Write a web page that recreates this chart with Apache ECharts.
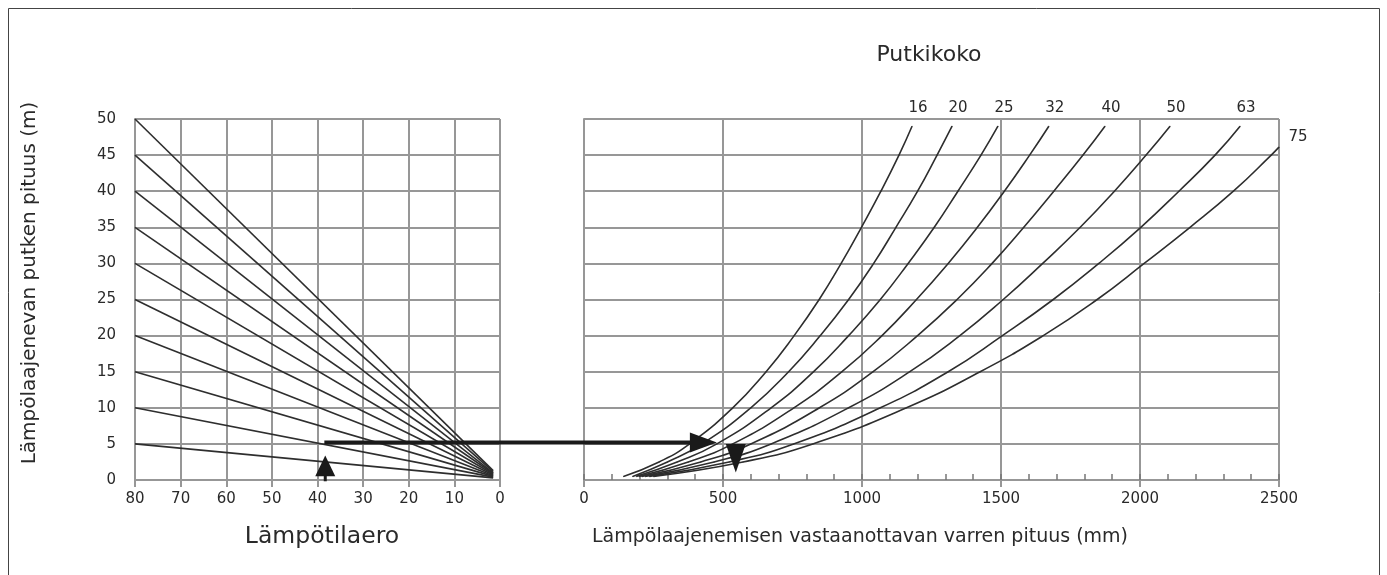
<!DOCTYPE html>
<html><head><meta charset="utf-8">
<script src="https://cdn.jsdelivr.net/npm/echarts@6/dist/echarts.min.js"></script>
<style>html,body{margin:0;padding:0;background:#fff}#c{width:1387px;height:575px}</style>
</head><body><div id="c"></div>
<script>
const FONT = 'DejaVu Sans';
const TXT = '#2a2a2a';
const GRID = '#979797';
const CURVE = '#2e2e2e';

// Left panel: temperature-difference fan lines, from x=80 to x≈1.5
const tempLineStartX = 80;
const tempLineEndX = 1.5;
const tempLineStartY = [5, 10, 15, 20, 25, 30, 35, 40, 45, 50];
const tempLineEndY   = [0.3, 0.4, 0.5, 0.6, 0.7, 0.8, 0.9, 1.0, 1.15, 1.3];

// Right panel: pipe size curves (x = arm length mm at given y levels)
const pipeSizes = ['16', '20', '25', '32', '40', '50', '63', '75'];
const levelsY   = [0.5, 2.5, 5, 10, 15, 20, 25, 30, 35, 40, 45, 49];
const levelsY75 = [0.5, 2.5, 5, 10, 15, 20, 25, 30, 35, 40, 45, 46.1];
const arm16 = [142, 270, 380, 535, 655, 756, 846, 925, 998, 1068, 1133, 1180];
const arm20 = [175, 300, 425, 600, 736, 850, 952, 1042, 1122, 1200, 1270, 1324];
const arm25 = [188, 335, 478, 673, 826, 952, 1066, 1166, 1260, 1345, 1428, 1489];
const arm32 = [198, 375, 535, 755, 928, 1072, 1196, 1310, 1415, 1512, 1603, 1672];
const arm40 = [208, 420, 600, 847, 1040, 1200, 1342, 1468, 1582, 1690, 1795, 1874];
const arm50 = [220, 468, 673, 952, 1172, 1352, 1508, 1650, 1785, 1908, 2022, 2108];
const arm63 = [235, 522, 754, 1066, 1310, 1505, 1688, 1852, 2003, 2140, 2270, 2360];
const arm75 = [250, 572, 823, 1160, 1425, 1652, 1846, 2015, 2180, 2336, 2472, 2500];
const armSets = [arm16, arm20, arm25, arm32, arm40, arm50, arm63, arm75];

// Example reading arrows
const arrowStart = [38.5, 5.2];   // left panel data
const arrowEnd   = [478, 5.2];    // right panel data
const upArrowTip = [38.3, 3.4];   // left panel data
const upArrowBase = [38.3, 0.1];
const downArrowTop = [546, 5.0];  // right panel data
const downArrowTip = [546, 1.05];

const chart = echarts.init(document.getElementById('c'), null, {renderer: 'canvas'});

const gridLine = {color: GRID, width: 2};
const labelStyle = {color: TXT, fontSize: 15, fontFamily: FONT, formatter: (v) => String(v)};

const series = [];
tempLineStartY.forEach((y0, i) => {
  series.push({
    type: 'line', xAxisIndex: 0, yAxisIndex: 0, symbol: 'none', silent: true,
    lineStyle: {color: CURVE, width: 1.6},
    data: [[tempLineStartX, y0], [tempLineEndX, tempLineEndY[i]]],
    animation: false
  });
});
armSets.forEach((arr, i) => {
  const ys = pipeSizes[i] === '75' ? levelsY75 : levelsY;
  const last = arr.length - 1;
  const data = arr.map((x, j) => {
    if (j < last) return [x, ys[j]];
    const lab = pipeSizes[i] === '75'
      ? {show: true, position: 'right', distance: 9, offset: [0, -10]}
      : {show: true, position: 'top', distance: 10, offset: [6, 0]};
    return {value: [x, ys[j]], label: Object.assign(lab, {formatter: pipeSizes[i], color: TXT, fontSize: 15, fontFamily: FONT})};
  });
  series.push({
    type: 'line', xAxisIndex: 1, yAxisIndex: 1, silent: true,
    symbol: 'circle', symbolSize: 1, showSymbol: true, itemStyle: {color: CURVE},
    smooth: 0.5,
    lineStyle: {color: CURVE, width: 1.6},
    data: data, animation: false
  });
});

const option = {
  backgroundColor: '#fff',
  animation: false,
  grid: [
    {left: 135, width: 365, top: 119, height: 361},
    {left: 584, width: 695, top: 119, height: 361}
  ],
  xAxis: [
    {gridIndex: 0, type: 'value', min: 0, max: 80, interval: 10, inverse: true,
     axisLine: {show: true, onZero: false, lineStyle: gridLine},
     axisTick: {show: true, length: 7, lineStyle: gridLine},
     axisLabel: Object.assign({margin: 12}, labelStyle),
     splitLine: {show: true, lineStyle: gridLine}},
    {gridIndex: 1, type: 'value', min: 0, max: 2500, interval: 500,
     axisLine: {show: true, onZero: false, lineStyle: gridLine},
     axisTick: {show: true, length: 7, lineStyle: gridLine},
     axisLabel: Object.assign({margin: 12}, labelStyle),
     splitLine: {show: true, lineStyle: gridLine}},
    {gridIndex: 1, type: 'value', min: 0, max: 2500, interval: 100, position: 'bottom',
     axisLine: {show: false, onZero: false},
     axisTick: {show: true, inside: true, length: 6, lineStyle: {color: '#777', width: 1.5}},
     axisLabel: {show: false},
     splitLine: {show: false}}
  ],
  yAxis: [
    {gridIndex: 0, type: 'value', min: 0, max: 50, interval: 5,
     axisLine: {show: true, onZero: false, lineStyle: gridLine},
     axisTick: {show: false},
     axisLabel: Object.assign({margin: 19}, labelStyle),
     splitLine: {show: true, lineStyle: gridLine}},
    {gridIndex: 1, type: 'value', min: 0, max: 50, interval: 5,
     axisLine: {show: true, onZero: false, lineStyle: gridLine},
     axisTick: {show: false},
     axisLabel: {show: false},
     splitLine: {show: true, lineStyle: gridLine}}
  ],
  series: series
};
chart.setOption(option);

// Annotations placed through the axes' own scales
const P0 = (d) => chart.convertToPixel({xAxisIndex: 0, yAxisIndex: 0}, d);
const P1 = (d) => chart.convertToPixel({xAxisIndex: 1, yAxisIndex: 1}, d);
const s = P0(arrowStart), e = P1(arrowEnd);
const headLen = 27, headHalf = 10;
const u = P0(upArrowTip), ub = P0(upArrowBase);
const dt = P1(downArrowTop), dp = P1(downArrowTip);

const graphics = [
  {type: 'rect', shape: {x: 8.5, y: 8.5, width: 1371, height: 620}, style: {fill: 'none', stroke: '#444', lineWidth: 1}, silent: true},
  {type: 'line', shape: {x1: s[0], y1: s[1], x2: e[0] - headLen + 2, y2: s[1]}, style: {stroke: '#1a1a1a', lineWidth: 4}, z: 100},
  {type: 'polygon', shape: {points: [[e[0], e[1]], [e[0] - headLen, e[1] - headHalf], [e[0] - headLen, e[1] + headHalf]]}, style: {fill: '#1a1a1a'}, z: 100},
  {type: 'polygon', shape: {points: [[u[0], u[1]], [u[0] - 10, ub[1] - 3], [u[0] + 10, ub[1] - 3]]}, style: {fill: '#1a1a1a'}, z: 100},
  {type: 'line', shape: {x1: u[0], y1: ub[1] - 4, x2: u[0], y2: ub[1] + 2}, style: {stroke: '#1a1a1a', lineWidth: 3}, z: 100},
  {type: 'polygon', shape: {points: [[dp[0], dp[1]], [dt[0] - 10, dt[1]], [dt[0] + 10, dt[1]]]}, style: {fill: '#1a1a1a'}, z: 100},
  {type: 'text', style: {text: 'Putkikoko', x: 929, y: 55, align: 'center', verticalAlign: 'middle', fill: TXT, fontSize: 22, fontFamily: FONT}},
  {type: 'text', style: {text: 'Lämpötilaero', x: 322, y: 537, align: 'center', verticalAlign: 'middle', fill: TXT, fontSize: 23.5, fontFamily: FONT}},
  {type: 'text', style: {text: 'Lämpölaajenemisen vastaanottavan varren pituus (mm)', x: 860, y: 537, align: 'center', verticalAlign: 'middle', fill: TXT, fontSize: 19, fontFamily: FONT}},
  {type: 'text', x: 30, y: 283, rotation: Math.PI / 2, style: {text: 'Lämpölaajenevan putken pituus (m)', x: 0, y: 0, align: 'center', verticalAlign: 'middle', fill: TXT, fontSize: 20, fontFamily: FONT}}
];
chart.setOption({graphic: graphics});
</script>
</body></html>
